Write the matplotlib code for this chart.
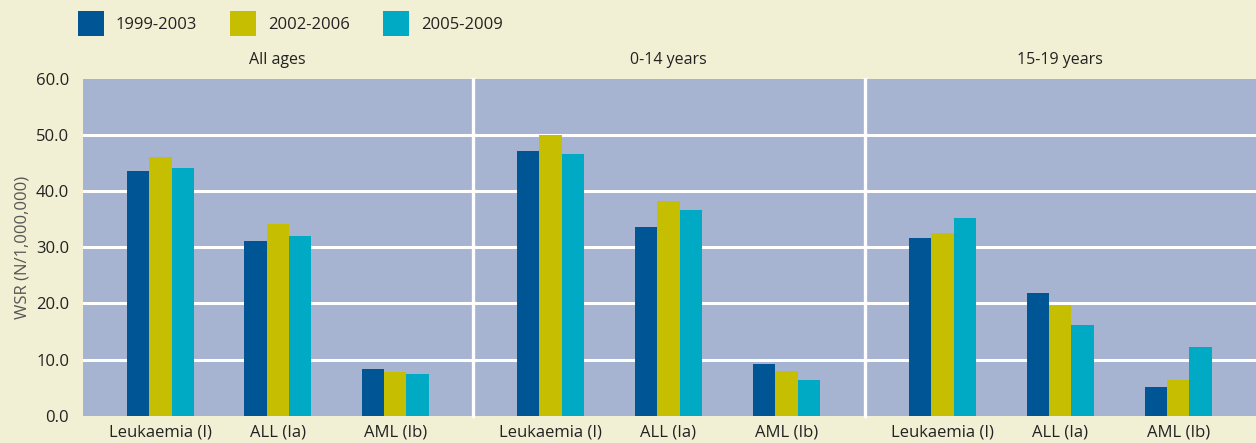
import matplotlib.pyplot as plt
import numpy as np
from matplotlib.patches import Patch

plt.rcParams['font.family'] = ['Open Sans', 'DejaVu Sans']

periods = ['1999-2003', '2002-2006', '2005-2009']
panels = ['All ages', '0-14 years', '15-19 years']
categories = ['Leukaemia (I)', 'ALL (Ia)', 'AML (Ib)']

# WSR per panel, one list per period (Leukaemia, ALL, AML)
all_ages = [[43.6, 31.1, 8.4], [46.1, 34.1, 7.7], [44.1, 32.1, 7.5]]
age_0_14 = [[47.1, 33.7, 9.3], [50.0, 38.2, 8.0], [46.6, 36.6, 6.3]]
age_15_19 = [[31.6, 21.8, 5.2], [32.5, 19.8, 6.4], [35.3, 16.2, 12.3]]
panel_values = [all_ages, age_0_14, age_15_19]

yticks = [0, 10, 20, 30, 40, 50, 60]

colors = ['#005694', '#c6be00', '#00aac4']
bg = '#f2f0d4'
plot_bg = '#a6b3d1'
text_c = '#222222'

W, H = 1256, 443
fig = plt.figure(figsize=(W / 100, H / 100), dpi=100, facecolor=bg)

bottom = (H - 415.7) / H
height = (415.7 - 79) / H
edges = [83, 472.5, 864.5, 1256]

x = np.arange(len(categories))
bw = 0.19
for i, (title, vals) in enumerate(zip(panels, panel_values)):
    left = edges[i] / W
    width = (edges[i + 1] - edges[i]) / W
    ax = fig.add_axes([left, bottom, width, height])
    ax.set_facecolor(plot_bg)
    ax.set_axisbelow(True)
    for k, series in enumerate(vals):
        ax.bar(x + (k - 1) * bw, series, width=bw, color=colors[k], zorder=3)
    ax.set_xlim(-0.66, 2.66)
    ax.set_ylim(0, 60)
    ax.set_yticks(yticks)
    for yv in yticks[1:-1]:
        ax.axhline(yv, color='white', lw=2.2, zorder=1)
    ax.set_xticks(x)
    ax.set_xticklabels(categories, fontsize=12, color=text_c)
    ax.tick_params(length=0, pad=6)
    for s in ['top', 'right', 'bottom']:
        ax.spines[s].set_visible(False)
    if i == 0:
        ax.spines['left'].set_visible(False)
        ax.set_yticklabels([f'{v:.1f}' for v in yticks], fontsize=12, color=text_c)
        ax.tick_params(axis='y', pad=10)
        ax.set_ylabel('WSR (N/1,000,000)', fontsize=12, color='#555555', labelpad=4)
    else:
        ax.spines['left'].set_color('white')
        ax.spines['left'].set_linewidth(2.4)
        ax.set_yticklabels([])
    ax.set_title(title, fontsize=11.5, color=text_c, pad=11)

handles = [Patch(facecolor=c, label=p) for c, p in zip(colors, periods)]
fig.legend(handles=handles, loc='upper left', bbox_to_anchor=(0.057, 0.99), ncol=3,
           frameon=False, fontsize=12, handlelength=1.55, handleheight=1.9,
           columnspacing=2.0, handletextpad=0.7, borderaxespad=0,
           labelcolor=text_c)

fig.savefig('out.png', dpi=100, facecolor=bg)
